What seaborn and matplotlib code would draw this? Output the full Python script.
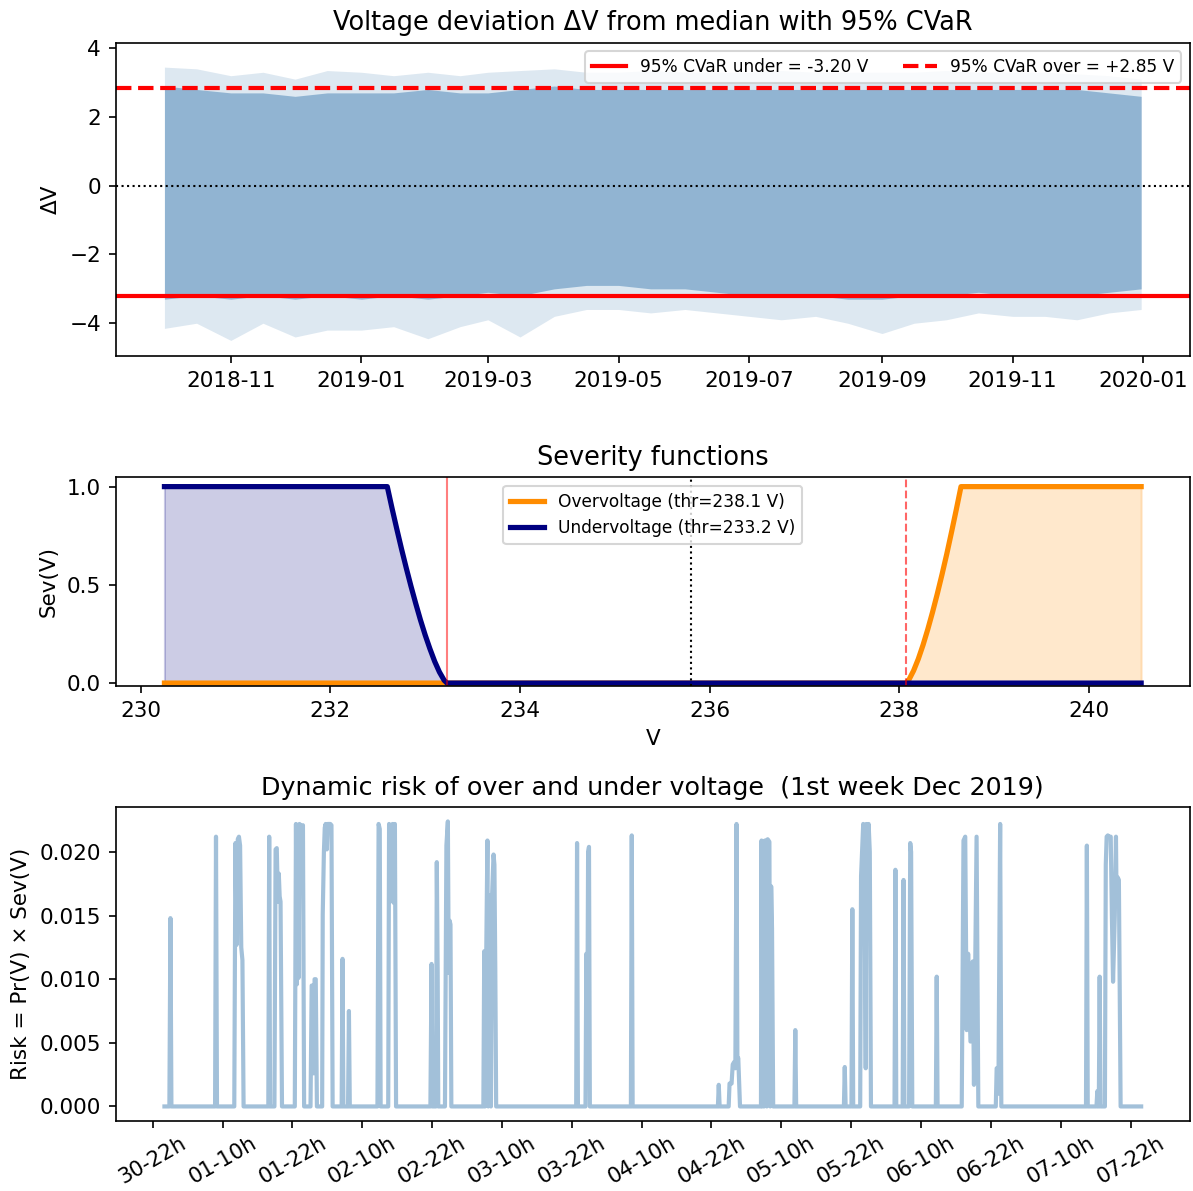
import numpy as np
import pandas as pd
import matplotlib
matplotlib.use("Agg")
import matplotlib.pyplot as plt
import matplotlib.dates as mdates
import seaborn as sns

plt.rcParams["font.size"] = 10.3

# ---------------- Panel 1: voltage deviation (half-monthly envelope read from the cloud) ----------------
band_dates = ["2018-10-01", "2018-10-16", "2018-11-01", "2018-11-16", "2018-12-01", "2018-12-16",
              "2019-01-01", "2019-01-16", "2019-02-01", "2019-02-16", "2019-03-01", "2019-03-16",
              "2019-04-01", "2019-04-16", "2019-05-01", "2019-05-16", "2019-06-01", "2019-06-16",
              "2019-07-01", "2019-07-16", "2019-08-01", "2019-08-16", "2019-09-01", "2019-09-16",
              "2019-10-01", "2019-10-16", "2019-11-01", "2019-11-16", "2019-12-01", "2019-12-16",
              "2019-12-31"]
dv_min = [-4.15, -4.0, -4.5, -4.0, -4.4, -4.2, -4.2, -4.1, -4.45, -4.1, -3.9, -4.4, -3.8, -3.6, -3.6,
          -3.7, -3.6, -3.7, -3.8, -3.9, -3.8, -4.0, -4.3, -4.0, -3.9, -3.7, -3.8, -3.8, -3.9, -3.7, -3.6]
dv_core_low = [-3.3, -3.2, -3.3, -3.2, -3.3, -3.2, -3.3, -3.2, -3.3, -3.2, -3.1, -3.2, -3.0, -2.9, -2.9,
               -3.0, -3.0, -3.1, -3.2, -3.2, -3.2, -3.3, -3.3, -3.2, -3.2, -3.1, -3.2, -3.2, -3.2, -3.1, -3.0]
dv_core_high = [2.9, 2.8, 2.7, 2.7, 2.6, 2.7, 2.7, 2.7, 2.8, 2.7, 2.7, 2.8, 2.9, 2.8, 2.8, 2.8, 2.8,
                2.8, 2.8, 2.8, 2.8, 2.8, 2.8, 2.8, 2.8, 2.8, 2.8, 2.8, 2.8, 2.7, 2.6]
dv_max = [3.45, 3.4, 3.2, 3.3, 3.1, 3.35, 3.3, 3.2, 3.3, 3.2, 3.3, 3.35, 3.4, 3.3, 3.3, 3.35, 3.3, 3.3,
          3.3, 3.35, 3.3, 3.3, 3.3, 3.3, 3.35, 3.3, 3.3, 3.3, 3.25, 3.2, 3.1]
cvar_under = -3.20
cvar_over = 2.85

# ---------------- Panel 2: severity functions ----------------
thr_under = 233.23
thr_over = 238.07
v_median = 235.8
sev_under_v = [230.25, 232.60, 232.65, 232.70, 232.75, 232.80, 232.85, 232.90, 232.95, 233.00,
               233.05, 233.10, 233.15, 233.20, 233.23, 240.55]
sev_under_s = [1.0, 1.0, 0.89, 0.785, 0.683, 0.586, 0.493, 0.405, 0.321, 0.244,
               0.174, 0.110, 0.056, 0.014, 0.0, 0.0]
sev_over_v = [230.25, 238.07, 238.10, 238.15, 238.20, 238.25, 238.30, 238.35, 238.40, 238.45,
              238.50, 238.55, 238.60, 238.65, 240.55]
sev_over_s = [0.0, 0.0, 0.016, 0.063, 0.123, 0.194, 0.274, 0.361, 0.454, 0.553,
              0.657, 0.768, 0.882, 1.0, 1.0]

# ---------------- Panel 3: dynamic risk (hours after 2019-12-01 00:00) ----------------
risk_t = [0.0, 0.85, 1.03, 1.2, 8.7, 8.86, 9.03,
          12.0, 12.2, 12.4, 12.6, 12.8, 13.0, 13.2, 13.4, 13.6,
          17.85, 18.0, 18.15,
          18.9, 19.1, 19.3, 19.5, 19.65, 19.8, 19.95, 20.2,
          22.4, 22.6, 22.75, 22.9, 23.05, 23.2, 23.4, 23.6, 23.8, 24.0,
          25.1, 25.3, 25.5, 25.65, 25.8, 26.0, 26.2,
          27.1, 27.2, 27.4, 27.55, 27.7, 27.9, 28.05, 28.3, 28.5, 28.7, 28.9,
          30.45, 30.6, 30.75, 31.55, 31.7, 31.85,
          36.6, 36.8, 37.0, 37.15,
          38.45, 38.6, 38.8, 39.0, 39.2, 39.4, 39.6, 39.8,
          45.7, 45.9, 46.05, 46.65, 46.8, 46.95, 47.05,
          48.2, 48.45, 48.7, 48.85, 49.0, 49.15, 49.3,
          54.8, 54.95, 55.1, 55.3, 55.5, 55.65, 55.8, 55.95, 56.1, 56.3, 56.55, 56.7, 56.85, 57.0,
          70.75, 70.9, 71.05,
          72.35, 72.5, 72.65, 72.8, 72.95, 73.1,
          80.15, 80.3, 80.45,
          95.1, 95.25, 95.4,
          96.95, 97.1, 97.45, 97.65, 97.9, 98.1, 98.3, 98.45, 98.6, 98.9,
          102.5, 102.6, 102.75, 102.9, 103.05, 103.2, 103.35, 103.5, 103.65, 103.8, 103.95, 104.1,
          104.25, 104.4, 104.6,
          108.25, 108.4, 108.55,
          116.75, 116.9, 117.05,
          118.05, 118.2, 118.35,
          119.55, 119.7, 120.07, 120.25, 120.5, 120.6, 120.8, 121.0, 121.2, 121.4,
          125.45, 125.6, 125.75,
          126.85, 127.0, 127.15,
          127.95, 128.15, 128.3, 128.5,
          132.55, 132.7, 132.85,
          137.0, 137.3, 137.6, 137.85, 138.1, 138.5, 138.9, 139.1, 139.55, 139.85,
          142.85, 143.0, 143.15, 143.3, 143.6, 143.8,
          158.35, 158.5, 158.65,
          160.15, 160.3, 160.45, 160.55, 160.7, 160.85,
          161.6, 161.75, 161.9, 162.1, 162.3, 162.6, 162.8, 163.0, 163.3, 163.5, 163.6, 163.8,
          164.0, 164.3, 167.83]
risk_v = [0.0, 0.0, 0.0148, 0.0, 0.0, 0.0212, 0.0,
          0.0, 0.0207, 0.0127, 0.0210, 0.0212, 0.0205, 0.0125, 0.0115, 0.0,
          0.0, 0.0212, 0.0,
          0.0, 0.0202, 0.0203, 0.0161, 0.0183, 0.0165, 0.0161, 0.0,
          0.0, 0.0222, 0.0096, 0.0221, 0.0101, 0.0222, 0.0221, 0.0219, 0.0221, 0.0,
          0.0, 0.0095, 0.0095, 0.0026, 0.0100, 0.0100, 0.0,
          0.0, 0.0151, 0.0200, 0.0219, 0.0222, 0.0202, 0.0222, 0.0222, 0.0222, 0.0221, 0.0,
          0.0, 0.0116, 0.0, 0.0, 0.0075, 0.0,
          0.0, 0.0222, 0.0218, 0.0,
          0.0, 0.0222, 0.0161, 0.0221, 0.0222, 0.0160, 0.0222, 0.0,
          0.0, 0.0112, 0.0, 0.0, 0.0192, 0.0105, 0.0,
          0.0, 0.0205, 0.0224, 0.0105, 0.0146, 0.0143, 0.0,
          0.0, 0.0122, 0.0, 0.0122, 0.0209, 0.0, 0.0155, 0.0166, 0.0, 0.0166, 0.0198, 0.0190, 0.0108, 0.0,
          0.0, 0.0207, 0.0,
          0.0, 0.0120, 0.0042, 0.0200, 0.0204, 0.0,
          0.0, 0.0213, 0.0,
          0.0, 0.0017, 0.0,
          0.0, 0.0018, 0.0018, 0.0033, 0.0035, 0.0030, 0.0222, 0.0036, 0.0038, 0.0,
          0.0, 0.0209, 0.0, 0.0208, 0.0, 0.0209, 0.0209, 0.0, 0.0210, 0.0209, 0.0208, 0.0,
          0.0173, 0.0140, 0.0,
          0.0, 0.0060, 0.0,
          0.0, 0.0031, 0.0,
          0.0, 0.0155, 0.0,
          0.0, 0.0181, 0.0222, 0.0220, 0.0030, 0.0222, 0.0173, 0.0222, 0.0200, 0.0,
          0.0, 0.0186, 0.0,
          0.0, 0.0178, 0.0,
          0.0, 0.0207, 0.0200, 0.0,
          0.0, 0.0102, 0.0,
          0.0, 0.0209, 0.0212, 0.0060, 0.0120, 0.0051, 0.0114, 0.0017, 0.0212, 0.0,
          0.0, 0.0030, 0.0030, 0.0010, 0.0222, 0.0,
          0.0, 0.0205, 0.0,
          0.0, 0.0012, 0.0, 0.0, 0.0102, 0.0,
          0.0, 0.0190, 0.0212, 0.0213, 0.0212, 0.0212, 0.0150, 0.0098, 0.0150, 0.0212, 0.0162, 0.0180,
          0.0178, 0.0, 0.0]
risk_start = "2019-12-01 00:00"
risk_tick_start = "2019-11-30 22:00"

# ---------------- figure ----------------
W, H, DPI = 1193, 1191, 150
fig = plt.figure(figsize=(W / DPI, H / DPI), dpi=DPI)
gs = fig.add_gridspec(3, 1, height_ratios=[1.5, 1, 1.5], left=115.6 / W, right=1190 / W,
                      top=1 - 42.7 / H, bottom=1 - 1120.7 / H, hspace=0.434)
ax1 = fig.add_subplot(gs[0])
ax2 = fig.add_subplot(gs[1])
ax3 = fig.add_subplot(gs[2])

# Panel 1
dates = pd.to_datetime(band_dates)
ax1.fill_between(dates, dv_min, dv_max, color="steelblue", alpha=0.18, linewidth=0)
ax1.fill_between(dates, dv_core_low, dv_core_high, color="steelblue", alpha=0.5, linewidth=0)
ax1.axhline(cvar_under, color="red", lw=2, label=f"95% CVaR under = {cvar_under:.2f} V")
ax1.axhline(cvar_over, color="red", lw=2, ls="--", label=f"95% CVaR over = +{cvar_over:.2f} V")
ax1.axhline(0, color="black", lw=1, ls=":")
ax1.set_ylim(-4.96, 4.16)
ax1.xaxis.set_major_locator(mdates.MonthLocator(bymonth=[1, 3, 5, 7, 9, 11]))
ax1.xaxis.set_major_formatter(mdates.DateFormatter("%Y-%m"))
ax1.set_ylabel("ΔV")
ax1.set_title("Voltage deviation ΔV from median with 95% CVaR", fontsize=12.3)
ax1.legend(loc="upper right", ncol=2, fontsize=8.2)

# Panel 2
sns.lineplot(x=sev_over_v, y=sev_over_s, ax=ax2, color="darkorange", lw=2.5,
             label=f"Overvoltage (thr={thr_over:.1f} V)", estimator=None, sort=False)
sns.lineplot(x=sev_under_v, y=sev_under_s, ax=ax2, color="navy", lw=2.5,
             label=f"Undervoltage (thr={thr_under:.1f} V)", estimator=None, sort=False)
ax2.fill_between(sev_over_v, sev_over_s, color="darkorange", alpha=0.2)
ax2.fill_between(sev_under_v, sev_under_s, color="navy", alpha=0.2)
ax2.axvline(thr_under, color="red", lw=1, alpha=0.5)
ax2.axvline(thr_over, color="red", lw=1, alpha=0.6, ls="--")
ax2.axvline(v_median, color="black", lw=1, ls=":")
ax2.set_ylim(-0.016, 1.048)
ax2.set_yticks([0.0, 0.5, 1.0])
ax2.set_xlabel("V")
ax2.set_ylabel("Sev(V)")
ax2.set_title("Severity functions", fontsize=12.3)
ax2.legend(loc="upper center", fontsize=8.2)

# Panel 3
risk_time = pd.Timestamp(risk_start) + pd.to_timedelta(risk_t, unit="h")
sns.lineplot(x=risk_time, y=risk_v, ax=ax3, color="steelblue", alpha=0.5, lw=2,
             estimator=None, sort=False)
ticks = pd.date_range(risk_tick_start, periods=15, freq="12h")
ax3.set_xticks(ticks)
ax3.xaxis.set_major_formatter(mdates.DateFormatter("%d-%Hh"))
ax3.tick_params(axis="x", pad=2.5, labelsize=10.1)
plt.setp(ax3.get_xticklabels(), rotation=30)
ax3.xaxis.label.set_visible(False)
ax3.set_ylabel("Risk = Pr(V) × Sev(V)")
ax3.set_title("Dynamic risk of over and under voltage  (1st week Dec 2019)", fontsize=12.2)

fig.savefig("out.png", dpi=DPI)
